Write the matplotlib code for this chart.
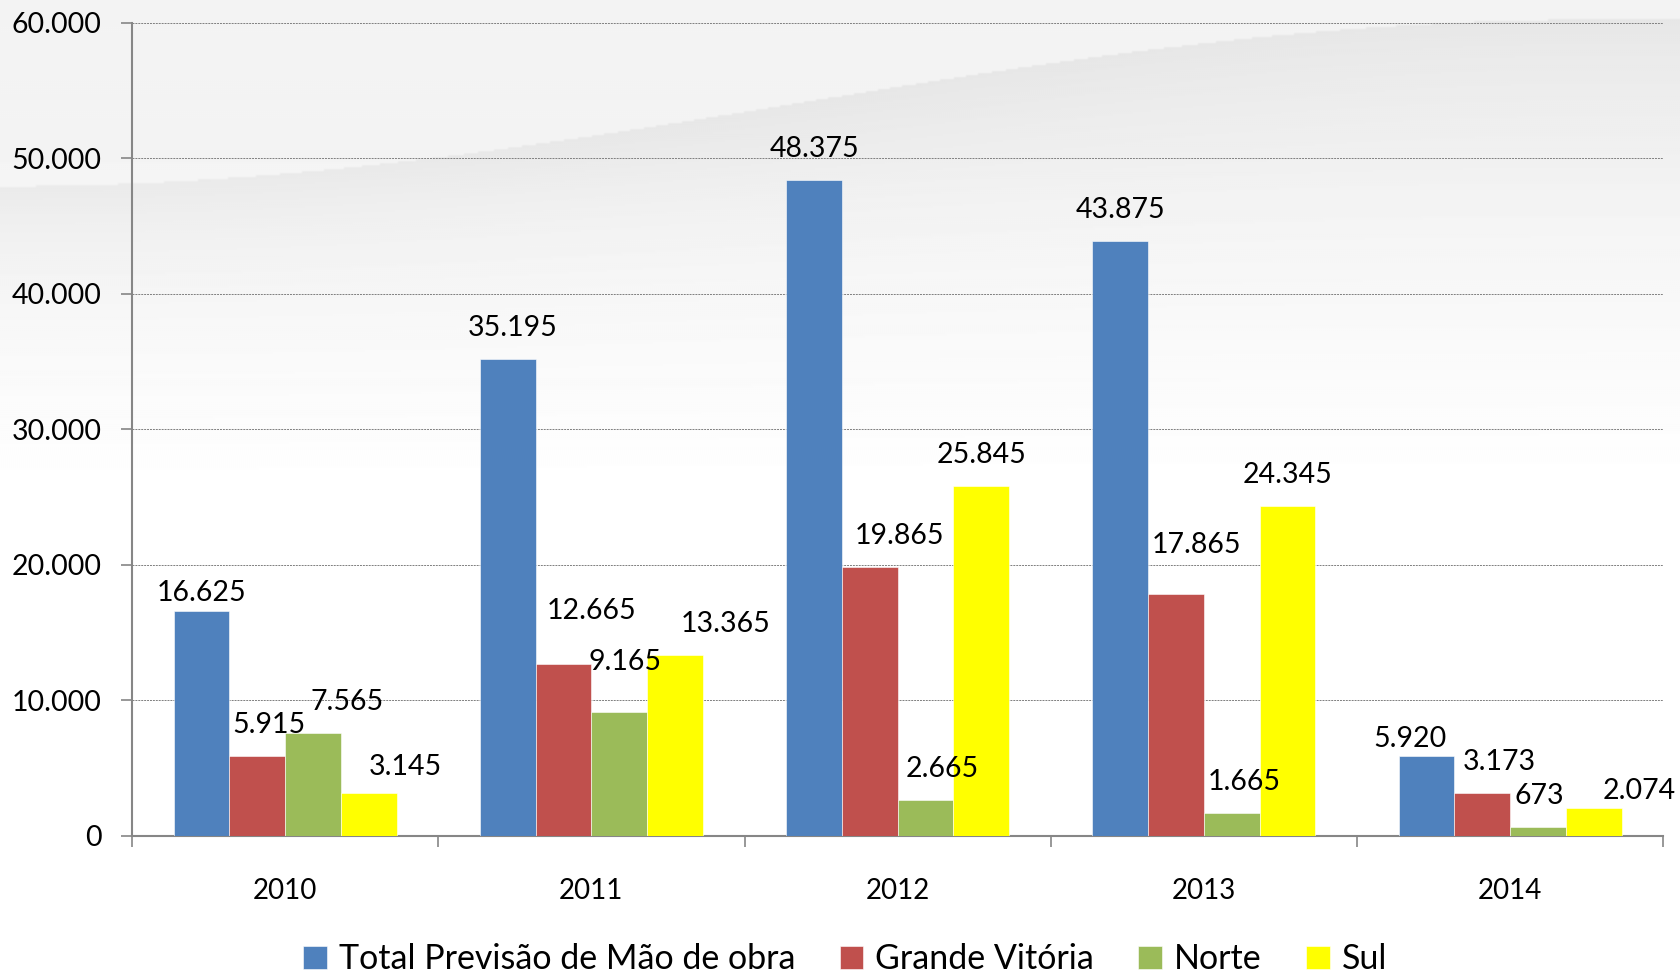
import numpy as np
import matplotlib.pyplot as plt
from matplotlib.ticker import FuncFormatter, FixedLocator

anos = ["2010", "2011", "2012", "2013", "2014"]
series = ["Total Previsão de Mão de obra", "Grande Vitória", "Norte", "Sul"]
total = [16625, 35195, 48375, 43875, 5920]
grande_vitoria = [5915, 12665, 19865, 17865, 3173]
norte = [7565, 9165, 2665, 1665, 673]
sul = [3145, 13365, 25845, 24345, 2074]

cores = ["#4f81bd", "#c0504d", "#9bbb59", "#ffff00"]

# deslocamento manual dos rótulos (pixels), por série e por ano, como no original
desloc = [
    [(0, -13), (5, 0), (0, 0), (0, 0), (-17, -14)],
    [(12, 0), (28, 22), (30, 0), (20, 18), (17, 0)],
    [(34, 0), (6, 19), (17, 0), (12, 0), (1, 0)],
    [(37, -5), (51, 0), (0, 0), (0, 0), (46, -14)],
]

plt.rcParams['font.family'] = ['Lato', 'DejaVu Sans']

fig = plt.figure(figsize=(16.8, 9.8), dpi=100)
fig.patch.set_facecolor('white')

# fundo decorativo (faixa cinza)
bg = fig.add_axes([0, 0, 1, 1], zorder=0)
h, w = 490, 840
yy, xx = np.mgrid[0:h, 0:w]
xn = xx / w
yn = yy / h
base = 0.955 + 0.045 * np.clip((yn - 0.15) / 0.35, 0, 1)
borda = 0.19 - 0.17 * (0.5 - 0.5 * np.cos(np.pi * np.clip(xn / 0.95, 0, 1)))
faixa = np.exp(-np.clip(yn - borda, 0, None) / 0.12) * (yn > borda)
img = base - 0.05 * faixa * np.clip(1 - (yn - 0.1) / 0.5, 0, 1)
bg.imshow(np.clip(img, 0, 1), cmap='gray', vmin=0, vmax=1, aspect='auto',
          extent=[0, 1, 0, 1], origin='upper', interpolation='bilinear')
bg.set_axis_off()

ax = fig.add_axes([0.0786, 0.147, 0.9114, 0.830], zorder=1)
ax.patch.set_alpha(0)

x = np.arange(len(anos))
largura = 0.182
valores = [total, grande_vitoria, norte, sul]
for i, (vals, cor, nome) in enumerate(zip(valores, cores, series)):
    pos = x + (i - 1.5) * largura
    barras = ax.bar(pos, vals, largura, color=cor, label=nome,
                    edgecolor='white', linewidth=0.4, zorder=3)
    for j, (b, v) in enumerate(zip(barras, vals)):
        dx, dy = desloc[i][j]
        ax.annotate(f"{v:,}".replace(",", "."),
                    (b.get_x() + b.get_width() / 2, v),
                    xytext=(dx, 31 + dy), textcoords='offset pixels',
                    ha='center', va='center', fontsize=20.5, color='black', zorder=4)

ax.set_xlim(-0.5, 4.5)
ax.set_ylim(0, 60000)
ax.set_yticks(np.arange(0, 60001, 10000))
ax.yaxis.set_major_formatter(FuncFormatter(lambda v, p: f"{int(v):,}".replace(",", ".")))
ax.grid(axis='y', color='#7f7f7f', linestyle=(0, (2, 1)), linewidth=0.7, zorder=1)

ax.xaxis.set_major_locator(FixedLocator(np.arange(-0.5, 4.6, 1)))
ax.xaxis.set_major_formatter(FuncFormatter(lambda v, p: ""))
ax.xaxis.set_minor_locator(FixedLocator(x))
ax.set_xticklabels(anos, minor=True)
ax.tick_params(axis='x', which='major', length=8, width=1.2, color='#868686', direction='out')
ax.tick_params(axis='x', which='minor', length=0, pad=30, labelsize=20)
ax.tick_params(axis='y', length=8, width=1.2, color='#868686', labelsize=20.5, pad=14)

for s in ['top', 'right']:
    ax.spines[s].set_visible(False)
for s in ['left', 'bottom']:
    ax.spines[s].set_color('#868686')
    ax.spines[s].set_linewidth(1.5)

fig.legend(loc='center', bbox_to_anchor=(0.503, 0.021), ncol=4, frameon=False,
           fontsize=24.5, handlelength=0.7, handleheight=0.7, handletextpad=0.35,
           columnspacing=1.3, borderpad=0)

fig.savefig("out.png", dpi=100)
